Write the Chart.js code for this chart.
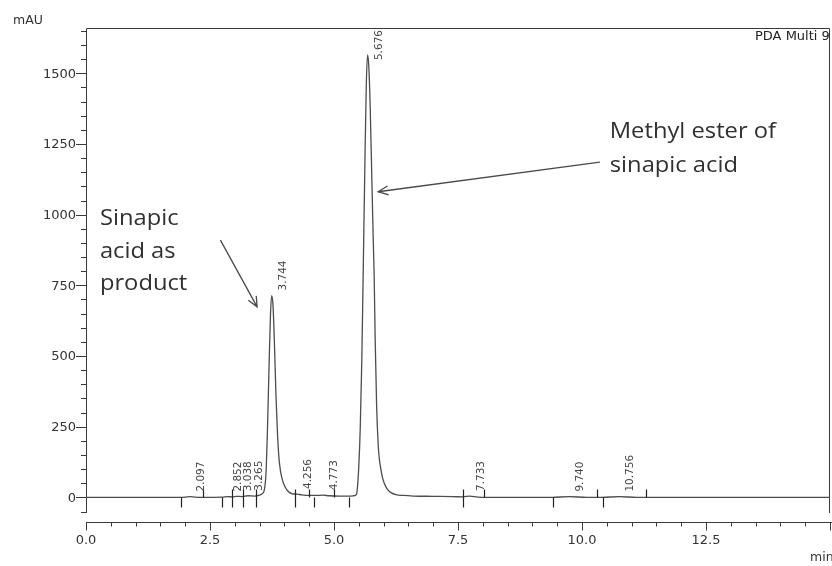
<!DOCTYPE html>
<html>
<head>
<meta charset="utf-8">
<script src="https://cdn.jsdelivr.net/npm/chart.js@4.4.0/dist/chart.umd.min.js"></script>
<style>
  html, body { margin: 0; padding: 0; background: #ffffff; }
  #wrap { width: 832px; height: 566px; position: relative; }
</style>
</head>
<body>
<div id="wrap"><canvas id="chrom" width="832" height="566"></canvas></div>
<script>
// Detector trace: retention time (min) and absorbance (mAU)
const retentionTimes = [
  0, 1.0, 1.9, 2.0, 2.097, 2.2, 2.35, 2.75, 2.852, 2.95, 3.038, 3.15, 3.265, 3.40,
  3.50, 3.56, 3.60, 3.63, 3.66, 3.69, 3.72, 3.744, 3.77, 3.80, 3.83, 3.86, 3.89,
  3.92, 3.96, 4.00, 4.05, 4.10, 4.16, 4.256, 4.35, 4.50, 4.65, 4.773, 4.90, 5.10,
  5.30, 5.40, 5.45, 5.47, 5.50, 5.53, 5.56, 5.59, 5.62, 5.65, 5.676, 5.70, 5.73,
  5.76, 5.79, 5.81, 5.83, 5.86, 5.89, 5.91, 5.95, 5.99, 6.04, 6.09, 6.15, 6.25,
  6.40, 6.60, 7.00, 7.40, 7.60, 7.733, 7.90, 8.10, 9.40, 9.740, 10.10, 10.40,
  10.756, 11.10, 13.0, 15.0
];
const absorbance = [
  0, 0, 0, 1, 3, 1, 0, 1, 3, 2, 4, 3, 6, 5,
  8, 14, 30, 90, 250, 460, 650, 714, 680, 540, 360, 230, 140,
  95, 62, 42, 27, 18, 13, 12, 9, 7, 7, 8, 6, 5,
  5, 6, 10, 30, 110, 250, 480, 810, 1150, 1450, 1565, 1530, 1380,
  1150, 920, 782, 560, 320, 190, 143, 95, 62, 40, 26, 17, 10,
  7, 5, 4, 3, 2, 5, 1, 0, 0, 3, 0, 0,
  3, 0, 0, 0
];

// Integrated peaks
const peakTimes  = [2.097, 2.852, 3.038, 3.265, 3.744, 4.256, 4.773, 5.676, 7.733, 9.740, 10.756];
const peakLabels = ['2.097', '2.852', '3.038', '3.265', '3.744', '4.256', '4.773', '5.676', '7.733', '9.740', '10.756'];
const integrationStarts = [1.91, 2.74, 2.95, 3.17, 3.43, 4.21, 4.60, 5.30, 7.61, 9.42, 10.42];
const integrationEnds   = [2.35, 2.95, 3.17, 3.43, 4.21, 4.50, 4.99, 7.61, 8.02, 10.30, 11.30];

// Axis ticks
const xTickValues = [0, 2.5, 5, 7.5, 10, 12.5];
const xTickLabels = ['0.0', '2.5', '5.0', '7.5', '10.0', '12.5'];
const yTickValues = [0, 250, 500, 750, 1000, 1250, 1500];
const yTickLabels = ['0', '250', '500', '750', '1000', '1250', '1500'];

// Callout texts
const leftNote  = ['Sinapic', 'acid as', 'product'];
const rightNote = ['Methyl ester of', 'sinapic acid'];

const X_MIN = 0, X_MAX = 15, Y_MIN = -55, Y_MAX = 1660;
const AXIS_COLOR = '#3a3a3a';
const AXIS_FONT = '13px "DejaVu Sans"';

const tracePoints = retentionTimes.map((t, i) => ({ x: t, y: absorbance[i] }));

function peakHeight(t) {
  let best = 0;
  retentionTimes.forEach((rt, i) => {
    if (Math.abs(rt - t) < 0.03 && absorbance[i] > best) best = absorbance[i];
  });
  return best;
}

function arrow(ctx, x1, y1, x2, y2) {
  const a = Math.atan2(y2 - y1, x2 - x1);
  const len = 11, spread = 0.42;
  ctx.beginPath();
  ctx.moveTo(x1, y1);
  ctx.lineTo(x2, y2);
  ctx.moveTo(x2 - len * Math.cos(a - spread), y2 - len * Math.sin(a - spread));
  ctx.lineTo(x2, y2);
  ctx.lineTo(x2 - len * Math.cos(a + spread), y2 - len * Math.sin(a + spread));
  ctx.stroke();
}

function stretchedText(ctx, text, x, y, sx) {
  ctx.save();
  ctx.translate(x, y);
  ctx.scale(sx, 1);
  ctx.fillText(text, 0, 0);
  ctx.restore();
}

const chromAxes = {
  id: 'chromAxes',
  beforeDatasetsDraw(chart) {
    const { ctx, chartArea: ca, scales: { x, y } } = chart;
    ctx.save();
    ctx.strokeStyle = AXIS_COLOR;
    ctx.lineWidth = 1;

    // frame: left axis, top and right border
    ctx.beginPath();
    ctx.moveTo(ca.left + 0.5, ca.bottom);
    ctx.lineTo(ca.left + 0.5, ca.top + 0.5);
    ctx.lineTo(ca.right - 0.5, ca.top + 0.5);
    ctx.lineTo(ca.right - 0.5, ca.bottom);
    ctx.stroke();

    // y minor ticks every 50 mAU
    ctx.beginPath();
    for (let v = -50; v <= Y_MAX; v += 50) {
      const py = Math.round(y.getPixelForValue(v)) + 0.5;
      const major = yTickValues.includes(v);
      ctx.moveTo(ca.left, py);
      ctx.lineTo(ca.left - (major ? 10 : 5), py);
    }
    ctx.stroke();

    ctx.fillStyle = '#333333';
    ctx.font = AXIS_FONT;
    ctx.textAlign = 'right';
    ctx.textBaseline = 'middle';
    yTickValues.forEach((v, i) => {
      ctx.fillText(yTickLabels[i], ca.left - 10, y.getPixelForValue(v) + 1);
    });

    // detached x axis below the plot
    const xAxisY = ca.bottom + 9.5;
    ctx.beginPath();
    ctx.moveTo(ca.left, xAxisY);
    ctx.lineTo(chart.width, xAxisY);
    for (let v = 0; v <= X_MAX + 0.001; v += 0.5) {
      const px = Math.round(x.getPixelForValue(v)) + 0.5;
      const major = Math.abs(v / 2.5 - Math.round(v / 2.5)) < 1e-6;
      ctx.moveTo(px, xAxisY);
      ctx.lineTo(px, xAxisY + (major ? 8 : 4));
    }
    ctx.stroke();

    ctx.textAlign = 'center';
    ctx.textBaseline = 'top';
    xTickValues.forEach((v, i) => {
      ctx.fillText(xTickLabels[i], x.getPixelForValue(v), xAxisY + 12);
    });

    // axis titles and detector name
    ctx.font = '12.5px "DejaVu Sans"';
    ctx.textAlign = 'left';
    ctx.textBaseline = 'alphabetic';
    ctx.fillText('mAU', 13, 24);
    ctx.fillText('min', 810, 561);
    ctx.fillStyle = '#222222';
    ctx.font = '13px "DejaVu Sans"';
    ctx.fillText('PDA Multi 9', 755, 40);
    ctx.restore();
  },
  afterDatasetsDraw(chart) {
    const { ctx, chartArea: ca, scales: { x, y } } = chart;
    const y0 = Math.round(y.getPixelForValue(0)) + 0.5;
    ctx.save();

    // integration start / end markers
    ctx.strokeStyle = '#222222';
    ctx.lineWidth = 1.2;
    ctx.beginPath();
    integrationStarts.forEach(t => {
      const px = Math.round(x.getPixelForValue(t)) + 0.5;
      ctx.moveTo(px, y0);
      ctx.lineTo(px, y0 + 10);
    });
    integrationEnds.forEach(t => {
      const px = Math.round(x.getPixelForValue(t)) + 0.5;
      ctx.moveTo(px, y0);
      ctx.lineTo(px, y0 - 8);
    });
    ctx.stroke();

    // retention time labels, rotated
    ctx.fillStyle = '#454545';
    ctx.font = '10.5px "DejaVu Sans"';
    ctx.textAlign = 'left';
    ctx.textBaseline = 'alphabetic';
    peakTimes.forEach((t, i) => {
      const px = x.getPixelForValue(t) + 14;
      const w = ctx.measureText(peakLabels[i]).width;
      let bottom = y.getPixelForValue(peakHeight(t)) - 5;
      if (bottom - w < ca.top + 2) bottom = ca.top + 2 + w;
      ctx.save();
      ctx.translate(px, bottom);
      ctx.rotate(-Math.PI / 2);
      ctx.fillText(peakLabels[i], 0, 0);
      ctx.restore();
    });

    // callouts
    ctx.fillStyle = '#303030';
    ctx.font = '21px "Open Sans"';
    leftNote.forEach((s, i) => {
      stretchedText(ctx, s, x.getPixelForValue(0.28), y.getPixelForValue(963) + i * 32.5, 1.13);
    });
    rightNote.forEach((s, i) => {
      stretchedText(ctx, s, x.getPixelForValue(10.56), y.getPixelForValue(1271) + i * 34, 1.13);
    });

    ctx.strokeStyle = '#4a4a4a';
    ctx.lineWidth = 1.3;
    arrow(ctx, x.getPixelForValue(2.71), y.getPixelForValue(910),
               x.getPixelForValue(3.45), y.getPixelForValue(674));
    arrow(ctx, x.getPixelForValue(10.36), y.getPixelForValue(1186),
               x.getPixelForValue(5.89), y.getPixelForValue(1081));
    ctx.restore();
  }
};

new Chart(document.getElementById('chrom'), {
  type: 'line',
  data: {
    datasets: [{
      label: 'PDA Multi 9',
      data: tracePoints,
      borderColor: '#4d4d4d',
      borderWidth: 1.3,
      pointRadius: 0,
      fill: false,
      cubicInterpolationMode: 'monotone'
    }]
  },
  options: {
    responsive: false,
    animation: false,
    layout: { padding: { left: 86, top: 28, right: 2, bottom: 53 } },
    plugins: { legend: { display: false }, tooltip: { enabled: false } },
    scales: {
      x: { type: 'linear', min: X_MIN, max: X_MAX, display: false },
      y: { type: 'linear', min: Y_MIN, max: Y_MAX, display: false }
    }
  },
  plugins: [chromAxes]
});
</script>
</body>
</html>
